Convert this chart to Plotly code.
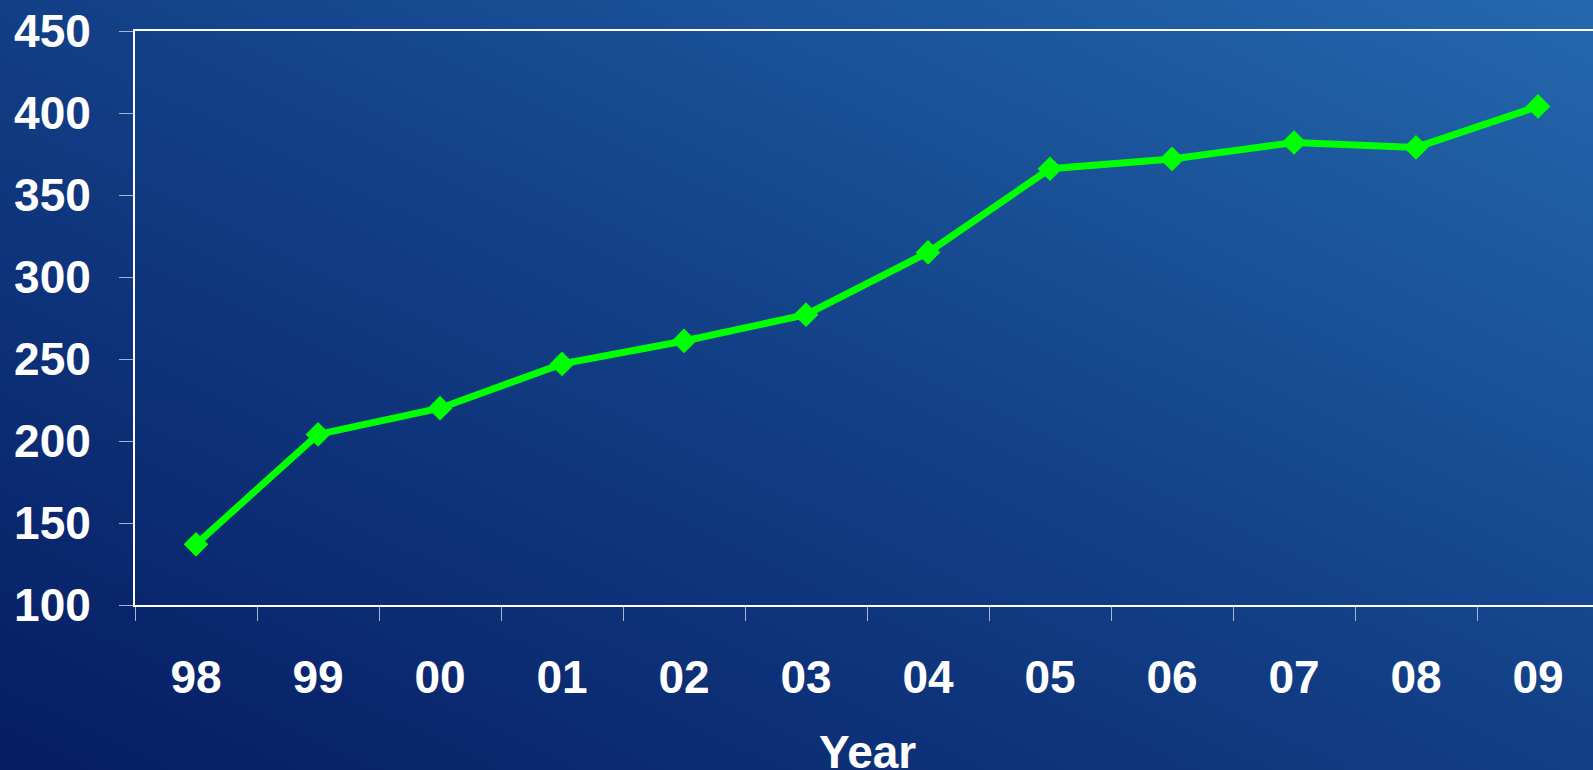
import base64
import plotly.graph_objects as go

years = ["98", "99", "00", "01", "02", "03", "04", "05", "06", "07", "08", "09"]
values = [137, 204, 220, 247, 261, 277, 315, 366, 372, 382, 379, 404]
y_ticks = [100, 150, 200, 250, 300, 350, 400, 450]

W, H = 1593, 770
L, T, B = 135, 31, 165
plot_w = W - L
plot_h = H - T - B

svg = f'''<svg xmlns="http://www.w3.org/2000/svg" width="{W}" height="{H}" viewBox="0 0 {W} {H}" preserveAspectRatio="none">
<defs><linearGradient id="g" x1="0" y1="1" x2="1" y2="0">
<stop offset="0" stop-color="#061c63"/>
<stop offset="0.5" stop-color="#123f86"/>
<stop offset="1" stop-color="#2468ae"/>
</linearGradient></defs>
<rect x="0" y="0" width="{W}" height="{H}" fill="url(#g)"/></svg>'''
src = "data:image/svg+xml;base64," + base64.b64encode(svg.encode()).decode()

fig = go.Figure()
fig.add_trace(go.Scatter(
    x=years, y=values, mode="lines+markers",
    line=dict(color="#00ff00", width=7),
    marker=dict(symbol="diamond", size=19, color="#00ff00"),
    cliponaxis=False,
))

font = dict(family="Liberation Sans, Arial, sans-serif", color="white", size=46)

fig.update_layout(
    width=W, height=H,
    margin=dict(l=L, r=0, t=T, b=B),
    paper_bgcolor="#0f3a80",
    plot_bgcolor="rgba(0,0,0,0)",
    showlegend=False,
    font=font,
    images=[dict(source=src, xref="paper", yref="paper",
                 x=-L / plot_w, y=1 + T / plot_h,
                 sizex=W / plot_w, sizey=H / plot_h,
                 xanchor="left", yanchor="top", sizing="stretch",
                 layer="below")],
    xaxis=dict(
        type="category", range=[-0.5, -0.5 + plot_w / 122.0],
        tickson="boundaries", ticks="outside", ticklen=14, tickwidth=1,
        tickcolor="#a8b4d0", showline=True, linecolor="white", linewidth=2,
        mirror=True, showgrid=False, zeroline=False,
        tickfont=dict(family="Liberation Sans, Arial, sans-serif", size=46, color="white", weight="bold"),
        ticklabelstandoff=31,
    ),
    yaxis=dict(
        range=[100, 450], tickvals=y_ticks, ticks="outside", ticklen=14,
        tickwidth=1, tickcolor="#a8b4d0", showline=True, linecolor="white",
        linewidth=2, showgrid=False, zeroline=False,
        tickfont=dict(family="Liberation Sans, Arial, sans-serif", size=46, color="white", weight="bold"),
        ticklabelstandoff=19,
    ),
    annotations=[dict(
        text="<b>Year</b>", xref="paper", yref="paper",
        x=(867 - L) / plot_w, y=-(752 - (H - B)) / plot_h,
        xanchor="center", yanchor="middle", showarrow=False,
        font=dict(family="Liberation Sans, Arial, sans-serif", size=46, color="white"),
    )],
)

fig.write_html("out.html")
